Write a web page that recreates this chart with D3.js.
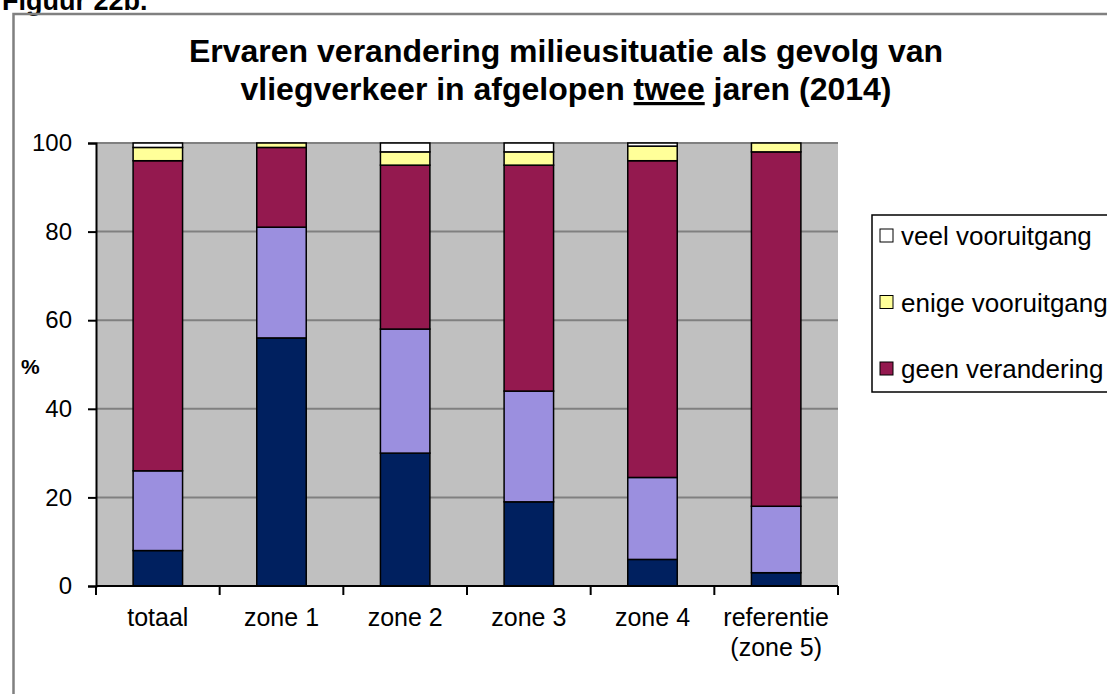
<!DOCTYPE html>
<html>
<head>
<meta charset="utf-8">
<script src="https://cdn.jsdelivr.net/npm/d3@7"></script>
<style>
  body { margin: 0; background: #fff; }
  svg { display: block; font-family: "Liberation Sans", Arial, sans-serif; }
</style>
</head>
<body>
<div id="chart"></div>
<script>
// data (percent per zone, stacked bottom -> top)
const categories = ["totaal", "zone 1", "zone 2", "zone 3", "zone 4", "referentie\n(zone 5)"];
const seriesNames = ["veel achteruitgang", "enige achteruitgang", "geen verandering", "enige vooruitgang", "veel vooruitgang"];
const veelAchteruit = [8, 56, 30, 19, 6, 3];
const enigeAchteruit = [18, 25, 28, 25, 18.5, 15];
const geenVerandering = [70, 18, 37, 51, 71.5, 80];
const enigeVooruit = [3, 1, 3, 3, 3.3, 2];
const veelVooruit = [1, 0, 2, 2, 0.7, 0];
const yTicks = [0, 20, 40, 60, 80, 100];
const legendShown = ["veel vooruitgang", "enige vooruitgang", "geen verandering"];

const colors = {
  "veel achteruitgang": "#00205f",
  "enige achteruitgang": "#9b8fdf",
  "geen verandering": "#94194f",
  "enige vooruitgang": "#ffff99",
  "veel vooruitgang": "#ffffff"
};

const width = 1107, height = 694;
const plot = {left: 96, top: 143, right: 838, bottom: 586};

const svg = d3.select('#chart').append('svg')
  .attr('width', width).attr('height', height);

// figure label (cut off at the top, like the scan) and frame
svg.append('text').attr('x', 2).attr('y', 10)
  .attr('font-size', 27).attr('font-weight', 'bold').text('Figuur 22b.');
svg.append('path')
  .attr('d', `M13.5,${height} V14 H${width}`)
  .attr('fill', 'none').attr('stroke', '#808080').attr('stroke-width', 2.5);

// title
const title = svg.append('text').attr('text-anchor', 'middle')
  .attr('font-size', 32).attr('font-weight', 'bold');
title.append('tspan').attr('x', 566).attr('y', 62)
  .text('Ervaren verandering milieusituatie als gevolg van');
const t2 = title.append('tspan').attr('x', 566).attr('y', 100);
t2.append('tspan').text('vliegverkeer in afgelopen ');
t2.append('tspan').attr('text-decoration', 'underline').text('twee');
t2.append('tspan').text(' jaren (2014)');

// table for stacking
const table = categories.map((c, i) => ({
  cat: c,
  "veel achteruitgang": veelAchteruit[i],
  "enige achteruitgang": enigeAchteruit[i],
  "geen verandering": geenVerandering[i],
  "enige vooruitgang": enigeVooruit[i],
  "veel vooruitgang": veelVooruit[i]
}));
const stacked = d3.stack().keys(seriesNames)(table);

const x = d3.scaleBand().domain(categories)
  .range([plot.left, plot.right]).paddingInner(0.6).paddingOuter(0.3);
const xCat = d3.scaleBand().domain(categories).range([plot.left, plot.right]);
const y = d3.scaleLinear().domain([0, 100]).range([plot.bottom, plot.top]);

// plot background
svg.append('rect')
  .attr('x', plot.left).attr('y', plot.top)
  .attr('width', plot.right - plot.left).attr('height', plot.bottom - plot.top)
  .attr('fill', '#c0c0c0');

// gridlines
svg.append('g').selectAll('line').data(yTicks.filter(d => d > 0)).join('line')
  .attr('x1', plot.left).attr('x2', plot.right)
  .attr('y1', d => y(d)).attr('y2', d => y(d))
  .attr('stroke', '#808080').attr('stroke-width', 2);

// bars
svg.append('g').selectAll('g').data(stacked).join('g')
  .attr('fill', d => colors[d.key])
  .selectAll('rect').data(d => d.filter(s => s[1] - s[0] > 0)).join('rect')
  .attr('x', d => x(d.data.cat))
  .attr('y', d => y(d[1]))
  .attr('width', x.bandwidth())
  .attr('height', d => y(d[0]) - y(d[1]))
  .attr('stroke', '#000').attr('stroke-width', 1.5);

// y axis
const yAxis = svg.append('g').attr('transform', `translate(${plot.left},0)`)
  .call(d3.axisLeft(y).tickValues(yTicks).tickSize(8).tickPadding(16));
yAxis.select('.domain').attr('stroke', '#000').attr('stroke-width', 2);
yAxis.selectAll('.tick line').attr('stroke', '#000').attr('stroke-width', 2);
yAxis.selectAll('.tick text').attr('font-size', 24).attr('fill', '#000')
  .attr('font-family', '"Liberation Sans", Arial, sans-serif');

svg.append('text').attr('x', 21).attr('y', 374)
  .attr('font-size', 21).attr('font-weight', 'bold').text('%');

// x axis
svg.append('line')
  .attr('x1', plot.left).attr('x2', plot.right)
  .attr('y1', plot.bottom).attr('y2', plot.bottom)
  .attr('stroke', '#000').attr('stroke-width', 2);
const bounds = categories.map(c => xCat(c)).concat([plot.right]);
svg.append('g').selectAll('line').data(bounds).join('line')
  .attr('x1', d => d).attr('x2', d => d)
  .attr('y1', plot.bottom).attr('y2', plot.bottom + 9)
  .attr('stroke', '#000').attr('stroke-width', 2);
svg.append('g').selectAll('text').data(categories).join('text')
  .attr('text-anchor', 'middle').attr('font-size', 25)
  .attr('transform', d => `translate(${xCat(d) + xCat.bandwidth() / 2},626)`)
  .each(function(d) {
    d.split('\n').forEach((line, i) => {
      d3.select(this).append('tspan').attr('x', 0).attr('dy', i ? 30 : 0).text(line);
    });
  });

// legend (box runs off the right edge)
const legend = svg.append('g').attr('transform', 'translate(872,215)');
legend.append('rect').attr('width', 300).attr('height', 177)
  .attr('fill', '#fff').attr('stroke', '#000').attr('stroke-width', 1.5);
const item = legend.selectAll('g.item').data(legendShown).join('g')
  .attr('class', 'item')
  .attr('transform', (d, i) => `translate(8,${21 + i * 66.5})`);
item.append('rect').attr('x', 0).attr('y', -7).attr('width', 13).attr('height', 13)
  .attr('fill', d => colors[d]).attr('stroke', '#000').attr('stroke-width', 1);
item.append('text').attr('x', 21).attr('y', 9).attr('font-size', 26).text(d => d);
</script>
</body>
</html>
